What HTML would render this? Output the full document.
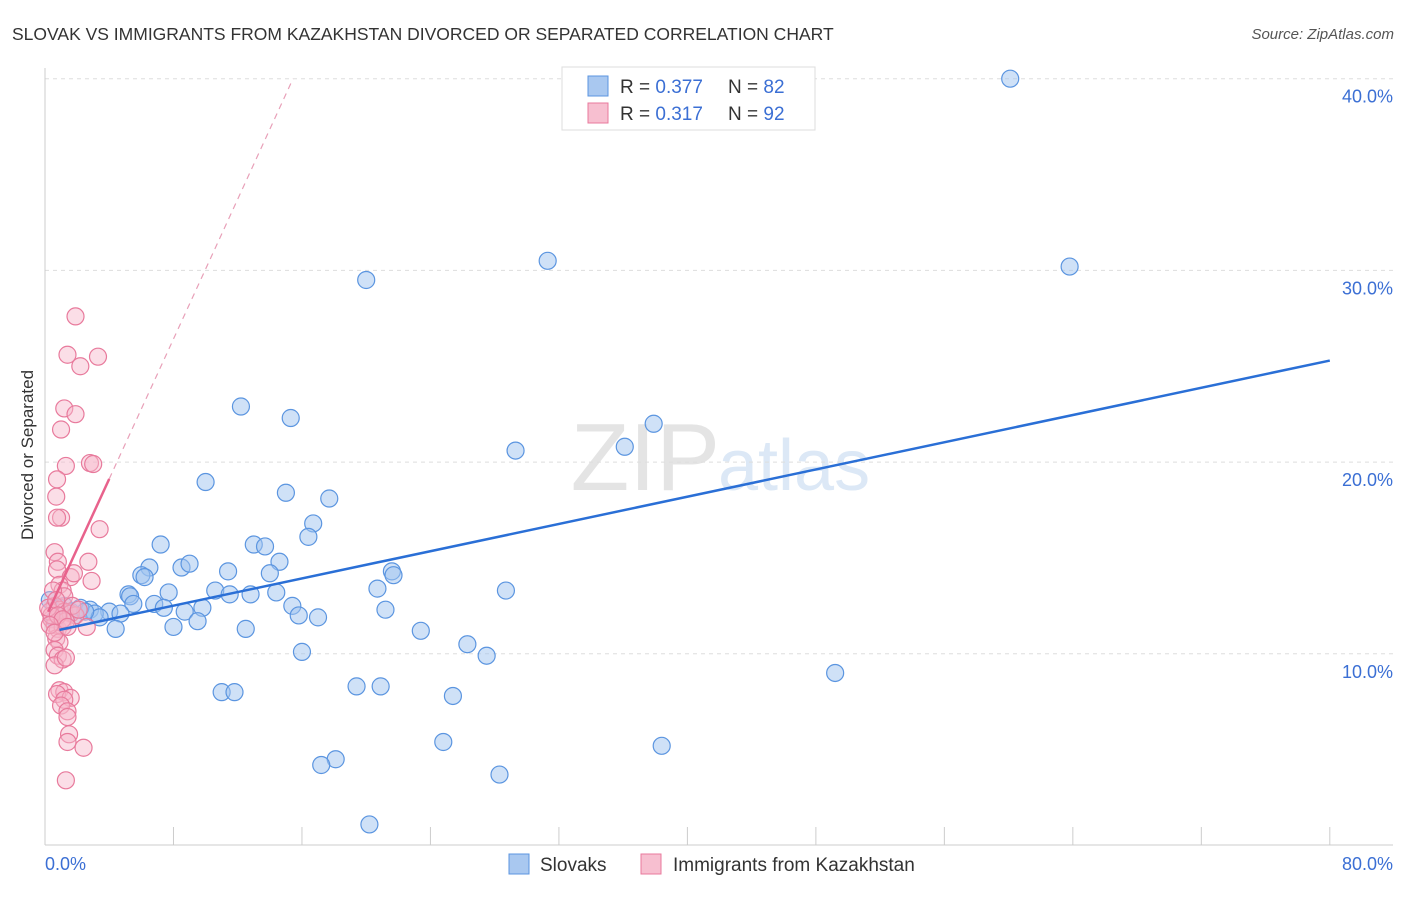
<!DOCTYPE html>
<html><head><meta charset="utf-8"><style>
body{margin:0;background:#fff;font-family:"Liberation Sans",sans-serif;}
svg text{font-family:"Liberation Sans",sans-serif;}
</style></head><body>
<svg id="chart" width="1406" height="892">
<text x="12" y="40" font-size="17.5" fill="#333">SLOVAK VS IMMIGRANTS FROM KAZAKHSTAN DIVORCED OR SEPARATED CORRELATION CHART</text>
<text x="1394" y="39" font-size="15" fill="#555" font-style="italic" text-anchor="end">Source: ZipAtlas.com</text>
<text x="720" y="490" font-size="96" fill="#e4e4e4" text-anchor="end" font-family="Liberation Serif">ZIP</text>
<text x="718" y="490" font-size="72" fill="#dce8f6">atlas</text>
<g id="grid"></g>
<line x1="45" y1="68" x2="45" y2="845" stroke="#ccc"/>
<line x1="45" y1="845" x2="1393" y2="845" stroke="#ccc"/>
<g id="xticks"></g>
<text transform="translate(33,455) rotate(-90)" font-size="17" fill="#333" text-anchor="middle">Divorced or Separated</text>
<text x="45" y="870" font-size="18" fill="#3b6fd4">0.0%</text>
<text x="1393" y="870" font-size="18" fill="#3b6fd4" text-anchor="end">80.0%</text>
<g id="pts"></g>
<g id="trends"></g>
<g>
<rect x="562" y="67" width="253" height="63" fill="#fff" stroke="#ddd"/>
<rect x="588" y="76" width="20" height="20" fill="#a9c8f0" stroke="#5b95e0"/>
<rect x="588" y="103" width="20" height="20" fill="#f7bfd0" stroke="#e87a9c"/>
<text x="620" y="93" font-size="19" fill="#333">R = <tspan fill="#3b6fd4">0.377</tspan><tspan x="728">N = </tspan><tspan fill="#3b6fd4">82</tspan></text>
<text x="620" y="120" font-size="19" fill="#333">R = <tspan fill="#3b6fd4"> 0.317</tspan><tspan x="728">N = </tspan><tspan fill="#3b6fd4">92</tspan></text>
</g>
<rect x="509" y="854" width="20" height="20" fill="#a9c8f0" stroke="#5b95e0"/>
<text x="540" y="871" font-size="19" fill="#333">Slovaks</text>
<rect x="641" y="854" width="20" height="20" fill="#f7bfd0" stroke="#e87a9c"/>
<text x="673" y="871" font-size="19" fill="#333">Immigrants from Kazakhstan</text>
</svg>
<script>
const blueX=[60.1,31.3,63.8,20.0,12.2,15.3,37.9,29.3,36.1,10.0,15.0,17.7,16.7,16.4,7.2,13.0,13.7,14.6,6.5,8.5,9.0,6.0,6.2,11.4,14.0,21.6,21.7,20.7,28.7,7.7,10.6,11.5,12.8,14.4,5.2,5.3,6.8,5.5,15.4,7.4,8.7,9.8,21.2,4.0,2.8,3.1,4.7,15.8,17.0,3.4,9.5,8.0,12.5,4.4,23.4,26.3,27.5,16.0,49.2,11.0,11.8,19.4,20.9,25.4,24.8,38.4,18.1,17.2,28.3,20.2,0.3,0.9,1.6,2.2,0.6,1.9,2.5,1.2];
const blueY=[40.0,30.5,30.2,29.5,22.9,22.3,22.0,20.6,20.8,18.96,18.4,18.1,16.8,16.1,15.7,15.7,15.6,14.8,14.5,14.5,14.7,14.1,14.0,14.3,14.2,14.3,14.1,13.4,13.3,13.2,13.3,13.1,13.1,13.2,13.1,13.0,12.6,12.6,12.5,12.4,12.2,12.4,12.3,12.2,12.3,12.1,12.1,12.0,11.9,11.9,11.7,11.4,11.3,11.3,11.2,10.5,9.9,10.1,9.0,8.0,8.0,8.3,8.3,7.8,5.4,5.2,4.5,4.2,3.7,1.1,12.8,12.4,12.2,12.4,11.8,12.0,12.2,12.5];
const pinkX=[1.9,1.4,3.3,2.2,1.2,1.9,1.0,1.3,2.8,3.0,0.75,0.7,1.0,0.75,3.4,0.6,0.8,2.7,0.75,1.6,2.9,0.9,1.1,1.2,0.6,0.9,1.2,1.6,1.9,0.4,0.6,0.8,1.1,1.3,0.3,0.4,0.2,1.7,2.6,0.7,0.9,0.6,0.8,1.1,0.6,1.3,0.9,1.2,0.75,1.6,1.2,1.0,1.4,1.4,1.5,1.4,2.4,1.3,0.5,0.7,0.8,1.1,0.3,0.6,1.4,2.1,1.8];
const pinkY=[27.6,25.6,25.5,25.0,22.8,22.5,21.7,19.8,19.95,19.9,19.1,18.2,17.1,17.1,16.5,15.3,14.8,14.8,14.4,14.0,13.8,13.6,13.3,13.0,12.5,12.3,12.2,12.1,12.0,11.8,11.5,11.3,11.4,11.7,12.2,12.0,12.4,12.5,11.4,10.8,10.6,10.2,9.9,9.7,9.4,9.8,8.1,8.0,7.9,7.7,7.6,7.3,7.0,6.7,5.8,5.4,5.1,3.4,13.3,12.8,12.0,11.8,11.5,11.1,11.4,12.3,14.2];
const yTicks=[10,20,30,40];
const yTickLabels=["10.0%","20.0%","30.0%","40.0%"];
const xTicks=[0,8,16,24,32,40,48,56,64,72,80];
const blueTrend=[11.09,0.1776]; // intercept, slope
const pinkTrend=[11.83,1.824];
const NS="http://www.w3.org/2000/svg";
const sx=v=>45+v*16.06, sy=v=>845.5-v*19.17;
function mk(tag,attrs,parent){const e=document.createElementNS(NS,tag);for(const k in attrs)e.setAttribute(k,attrs[k]);parent.appendChild(e);return e;}
const grid=document.getElementById('grid');
yTicks.forEach((t,i)=>{
 const l=mk('line',{x1:45,x2:1393,y1:sy(t),y2:sy(t),stroke:'#ddd','stroke-dasharray':'4,4'},grid);
 
 
 const tx=mk('text',{x:1393,y:sy(t)+24,'font-size':18,fill:'#3b6fd4','text-anchor':'end'},grid);
 tx.textContent=yTickLabels[i];
 
 
});
const xt=document.getElementById('xticks');
xTicks.forEach(t=>{
 const l=mk('line',{x1:sx(t),x2:sx(t),y1:827,y2:845,stroke:'#ccc'},xt);
 
 
});
const pts=document.getElementById('pts');
blueX.forEach((x,i)=>{
 const c=mk('circle',{cx:sx(x),cy:sy(blueY[i]),r:8.5,fill:'rgba(160,196,240,0.5)',stroke:'#5b95e0','stroke-width':1.2},pts);
 
 
});
pinkX.forEach((x,i)=>{
 const c=mk('circle',{cx:sx(x),cy:sy(pinkY[i]),r:8.5,fill:'rgba(247,182,202,0.45)',stroke:'#e87a9c','stroke-width':1.2},pts);
 
 
});
const tr=document.getElementById('trends');
const bl=mk('line',{x1:sx(0.9),y1:sy(blueTrend[0]+blueTrend[1]*0.9),x2:sx(80),y2:sy(blueTrend[0]+blueTrend[1]*80),stroke:'#2a6fd6','stroke-width':2.5},tr);


const pl=mk('line',{x1:sx(0.2),y1:sy(pinkTrend[0]+pinkTrend[1]*0.2),x2:sx(4.0),y2:sy(pinkTrend[0]+pinkTrend[1]*4.0),stroke:'#e8628c','stroke-width':2.5},tr);


const pd=mk('line',{x1:sx(4.0),y1:sy(pinkTrend[0]+pinkTrend[1]*4.0),x2:sx(15.44),y2:sy(pinkTrend[0]+pinkTrend[1]*15.44),stroke:'#e8a0b8','stroke-width':1.2,'stroke-dasharray':'6,5'},tr);


</script>
</body></html>
